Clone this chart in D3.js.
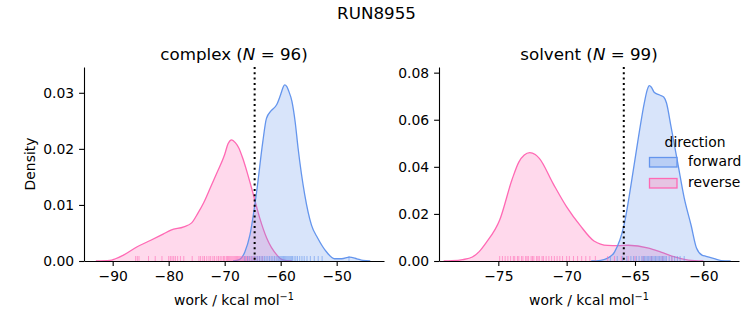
<!DOCTYPE html>
<html>
<head>
<meta charset="utf-8">
<script src="https://cdn.jsdelivr.net/npm/d3@7"></script>
<style>
  body { margin: 0; background: #fff; }
  svg { font-family: "DejaVu Sans", sans-serif; }
</style>
</head>
<body>
<div id="bdy"></div>
<script>
// density curves: [work, density]
var complexReverse = [[-93.0,0],[-90.5,0.0001],[-89.5,0.0004],[-88.0,0.0011],[-85.7,0.0025],[-83.2,0.0037],[-81.0,0.0048],
  [-79.6,0.0055],[-77.3,0.0061],[-75.9,0.0068],[-74.8,0.0085],[-73.75,0.0104],[-72.5,0.0132],[-71.4,0.0157],[-70.0,0.0190],
  [-69.4,0.0209],[-68.75,0.0216],[-68.1,0.0211],[-67.5,0.0202],[-66.8,0.0184],[-65.9,0.0155],[-65.0,0.0123],[-63.75,0.0077],
  [-62.5,0.0041],[-60.7,0.0011],[-59.6,0.0002],[-58.0,0]];
var complexForward = [[-68.5,0],[-67.3,0.0003],[-66.4,0.0016],[-65.5,0.0046],[-64.3,0.0123],[-63.2,0.0212],[-62.55,0.0254],
  [-61.7,0.0268],[-60.7,0.0279],[-59.9,0.0300],[-59.6,0.0309],[-59.3,0.0314],[-58.9,0.0311],[-58.6,0.0304],[-58.0,0.0285],
  [-57.4,0.0247],[-56.9,0.0202],[-55.7,0.0118],[-54.5,0.0064],[-53.4,0.0041],[-51.8,0.0016],[-50.4,0.0004],[-49.1,0.0004],
  [-47.7,0.0007],[-46.4,0.0004],[-45.3,0.0001],[-44.0,0]];
var solventReverse = [[-79.0,0],[-78.4,0.0001],[-77.6,0.0006],[-76.9,0.0017],[-76.4,0.0040],[-75.9,0.0077],[-74.9,0.0174],
  [-74.0,0.0345],[-73.5,0.0420],[-73.1,0.0450],[-72.7,0.0460],[-72.3,0.0452],[-72.0,0.0436],[-71.0,0.0330],[-70.0,0.0230],
  [-69.0,0.0150],[-68.0,0.0085],[-67.0,0.0066],[-66.25,0.0065],[-65.5,0.0067],[-64.0,0.0055],[-63.1,0.0038],[-62.1,0.0017],
  [-61.1,0.0004],[-60.0,0]];
var solventForward = [[-68.2,0],[-67.5,0.0003],[-67.0,0.0012],[-66.5,0.0038],[-65.8,0.0153],[-65.3,0.0320],[-64.8,0.0506],
  [-64.3,0.0677],[-64.1,0.0728],[-63.95,0.0745],[-63.8,0.0738],[-63.6,0.0717],[-63.2,0.0705],[-62.9,0.0697],[-62.7,0.0672],
  [-62.35,0.0566],[-61.85,0.0409],[-61.4,0.0268],[-60.9,0.0153],[-60.5,0.0055],[-60.1,0.0025],[-59.8,0.0020],[-59.2,0.0010],
  [-58.7,0.0002],[-58.0,0]];

// individual work values (rug)
var complexReverseWork = [-85.9,-85.6,-85.3,-83.6,-82.4,-81.2,-80.0,-79.7,-79.4,-79.1,-78.8,-78.4,-77.9,-77.3,-75.8,-74.6,
  -74.3,-73.9,-73.6,-73.2,-72.8,-72.5,-72.1,-71.8,-71.4,-71.1,-70.8,-70.5,-70.2,-70.0,-69.7,-69.5,-69.3,-69.1,-68.9,-68.7,
  -68.5,-68.3,-68.1,-67.9,-67.7,-67.5,-67.3,-67.1,-66.9,-66.7,-66.5,-66.3,-66.1,-65.9,-65.7,-65.5,-65.2,-64.9,-64.6,-64.2,
  -63.8,-63.3];
var complexForwardWork = [-66.4,-65.9,-65.5,-65.1,-64.7,-64.4,-64.1,-63.8,-63.5,-63.2,-62.9,-62.6,-62.3,-62.0,-61.7,-61.4,
  -61.1,-60.8,-60.5,-60.3,-60.1,-59.9,-59.7,-59.5,-59.3,-59.1,-58.9,-58.7,-58.5,-58.3,-58.1,-57.9,-57.6,-57.3,-57.0,-56.6,
  -56.2,-55.8,-55.3,-54.7,-54.0,-53.3,-52.6,-47.8];
var solventReverseWork = [-74.9,-74.7,-74.5,-74.3,-74.1,-73.9,-73.8,-73.6,-73.5,-73.3,-73.2,-73.0,-72.9,-72.8,-72.6,-72.5,
  -72.4,-72.2,-72.1,-72.0,-71.8,-71.7,-71.5,-71.3,-71.1,-70.9,-70.7,-70.5,-70.3,-70.0,-69.8,-69.5,-69.2,-68.9,-68.6,-68.3,
  -67.9,-67.0,-66.5,-66.0,-65.5,-65.0,-64.4,-63.8,-63.0,-62.3];
var solventForwardWork = [-66.8,-66.3,-65.9,-65.6,-65.3,-65.1,-64.9,-64.7,-64.5,-64.4,-64.3,-64.2,-64.1,-64.0,-63.9,-63.8,
  -63.7,-63.6,-63.5,-63.4,-63.3,-63.2,-63.1,-63.0,-62.9,-62.8,-62.7,-62.5,-62.3,-62.1,-61.9,-61.7,-61.4];

// vertical dotted reference line, ticks
var complexMark = -64.65;
var solventMark = -65.82;
var complexXTicks = [-90, -80, -70, -60, -50];
var complexYTicks = [0, 0.01, 0.02, 0.03];
var solventXTicks = [-75, -70, -65, -60];
var solventYTicks = [0, 0.02, 0.04, 0.06, 0.08];

var directions = ["forward", "reverse"];
var colors = {forward: "#6495ed", reverse: "#ff69b4"};

var width = 753, height = 325;
var plotTop = 67, plotBottom = 261;

var svg = d3.select('#bdy').append('svg')
    .attr('width', width)
    .attr('height', height);

svg.append('text')
    .attr('x', 376.5).attr('y', 19)
    .attr('text-anchor', 'middle')
    .style('font-size', '16.7px')
    .text('RUN8955');

var panels = [
  {name: 'complex', n: 96, left: 84, right: 384, xDomain: [-95.12, -41.55], yDomain: [0, 0.0346],
   xTicks: complexXTicks, yTicks: complexYTicks, mark: complexMark,
   curves: {forward: complexForward, reverse: complexReverse},
   rugs: {forward: complexForwardWork, reverse: complexReverseWork}, ylabel: true},
  {name: 'solvent', n: 99, left: 439, right: 739, xDomain: [-79.34, -57.39], yDomain: [0, 0.0824],
   xTicks: solventXTicks, yTicks: solventYTicks, mark: solventMark,
   curves: {forward: solventForward, reverse: solventReverse},
   rugs: {forward: solventForwardWork, reverse: solventReverseWork}, ylabel: false}
];

panels.forEach(function(p) {
    var x = d3.scaleLinear().domain(p.xDomain).range([p.left, p.right]);
    var y = d3.scaleLinear().domain(p.yDomain).range([plotBottom, plotTop]);
    var g = svg.append('g');

    var area = d3.area()
        .curve(d3.curveMonotoneX)
        .x(function(d) { return x(d[0]); })
        .y0(y(0))
        .y1(function(d) { return y(d[1]); });
    var line = d3.line()
        .curve(d3.curveMonotoneX)
        .x(function(d) { return x(d[0]); })
        .y(function(d) { return y(d[1]); });

    // reverse drawn first so forward sits on top
    ['reverse', 'forward'].forEach(function(dir) {
        g.append('path')
            .datum(p.curves[dir])
            .attr('d', area)
            .attr('fill', colors[dir])
            .attr('fill-opacity', 0.25);
        g.append('path')
            .datum(p.curves[dir])
            .attr('d', line)
            .attr('fill', 'none')
            .attr('stroke', colors[dir])
            .attr('stroke-width', 1.3);
    });

    // rug
    ['reverse', 'forward'].forEach(function(dir) {
        g.selectAll('.rug-' + dir)
            .data(p.rugs[dir])
            .enter().append('line')
            .attr('class', 'rug-' + dir)
            .attr('x1', function(d) { return x(d); })
            .attr('x2', function(d) { return x(d); })
            .attr('y1', plotBottom)
            .attr('y2', plotBottom - 5)
            .attr('stroke', colors[dir])
            .attr('stroke-opacity', 0.6)
            .attr('stroke-width', 1);
    });

    // dotted line
    g.append('line')
        .attr('x1', x(p.mark)).attr('x2', x(p.mark))
        .attr('y1', plotTop).attr('y2', plotBottom)
        .attr('stroke', '#000')
        .attr('stroke-width', 2)
        .attr('stroke-dasharray', '2,3.3');

    // axes
    var xAxis = g.append('g')
        .attr('transform', 'translate(0,' + plotBottom + ')')
        .call(d3.axisBottom(x).tickValues(p.xTicks).tickFormat(d3.format('d'))
              .tickSize(4.9).tickSizeOuter(0).tickPadding(4.9));
    var yAxis = g.append('g')
        .attr('transform', 'translate(' + p.left + ',0)')
        .call(d3.axisLeft(y).tickValues(p.yTicks).tickFormat(d3.format('.2f'))
              .tickSize(4.9).tickSizeOuter(0).tickPadding(4.9));
    [xAxis, yAxis].forEach(function(a) {
        a.selectAll('text').style('font-size', '13.9px').attr('fill', '#000')
            .style('font-family', '"DejaVu Sans", sans-serif');
        a.selectAll('line').attr('stroke', '#000').attr('stroke-width', 1.1);
        a.select('.domain').attr('stroke', '#000').attr('stroke-width', 1.1);
    });

    // title
    var cx = (p.left + p.right) / 2;
    var t = g.append('text')
        .attr('x', cx).attr('y', 60)
        .attr('text-anchor', 'middle')
        .style('font-size', '16.7px');
    t.append('tspan').text(p.name + ' (');
    t.append('tspan').style('font-style', 'italic').text('N');
    t.append('tspan').text(' = ' + p.n + ')');

    // x label
    var xl = g.append('text')
        .attr('x', cx).attr('y', 305)
        .attr('text-anchor', 'middle')
        .style('font-size', '13.9px');
    xl.append('tspan').text('work / kcal mol');
    xl.append('tspan').attr('dy', -5).style('font-size', '9.7px').text('\u22121');

    if (p.ylabel) {
        g.append('text')
            .attr('transform', 'translate(35,' + ((plotTop + plotBottom) / 2) + ') rotate(-90)')
            .attr('text-anchor', 'middle')
            .style('font-size', '13.9px')
            .text('Density');
    }
});

// legend
var legend = svg.append('g');
legend.append('text')
    .attr('x', 695).attr('y', 147)
    .attr('text-anchor', 'middle')
    .style('font-size', '13.9px')
    .text('direction');
var legendFill = {forward: '#b9cef5', reverse: '#e6c4e3'};
directions.forEach(function(dir, i) {
    legend.append('rect')
        .attr('x', 649.5).attr('y', 157.5 + i * 21)
        .attr('width', 27.5).attr('height', 9.5)
        .attr('fill', legendFill[dir])
        .attr('stroke', colors[dir])
        .attr('stroke-width', 1.3);
    legend.append('text')
        .attr('x', 688).attr('y', 166 + i * 21)
        .style('font-size', '13.9px')
        .text(dir);
});
</script>
</body>
</html>
